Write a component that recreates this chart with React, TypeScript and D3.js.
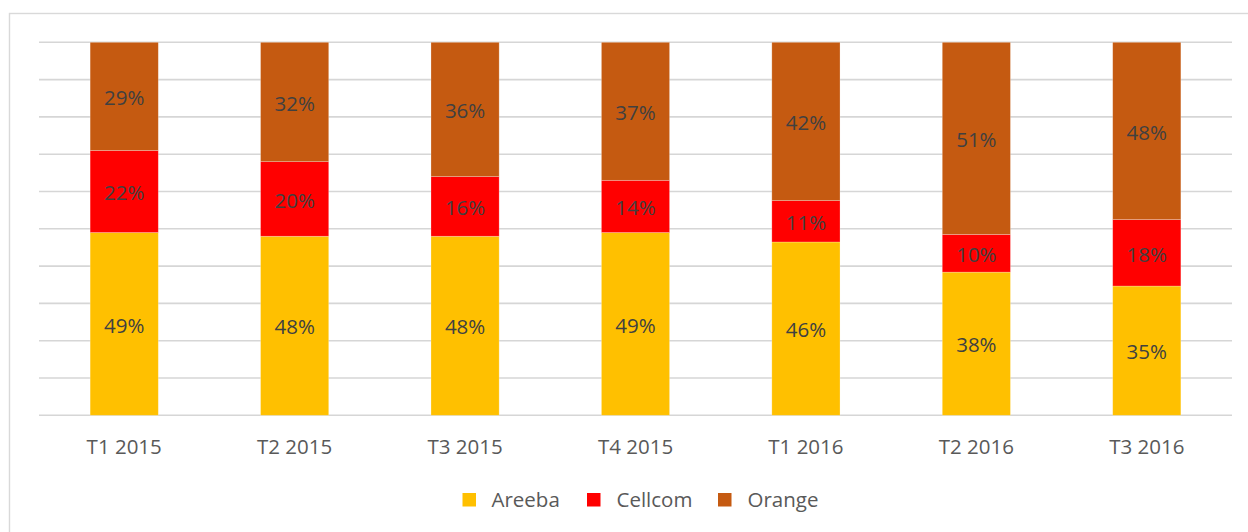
import React from "react";
import * as d3 from "d3";

const categories = ["T1 2015", "T2 2015", "T3 2015", "T4 2015", "T1 2016", "T2 2016", "T3 2016"];
const seriesNames = ["Areeba", "Cellcom", "Orange"];
const areeba = [49, 48, 48, 49, 46, 38, 35];
const cellcom = [22, 20, 16, 14, 11, 10, 18];
const orange = [29, 32, 36, 37, 42, 51, 48];
const colors = ["#FFC000", "#FF0000", "#C55A11"];
const gridTicks = [0, 0.1, 0.2, 0.3, 0.4, 0.5, 0.6, 0.7, 0.8, 0.9, 1];

const W = 1248;
const H = 532;
const FONT = "'Open Sans', sans-serif";

export default function App() {
  const rows = categories.map((c, i) => ({ cat: c, Areeba: areeba[i], Cellcom: cellcom[i], Orange: orange[i] }));
  const stack = d3.stack<any>().keys(seriesNames).offset(d3.stackOffsetExpand);
  const layers = stack(rows);

  const x = d3.scaleBand().domain(categories).range([39, 1232]).paddingInner(0.6).paddingOuter(0.3);
  const y = d3.scaleLinear().domain([0, 1]).range([415.3, 42.3]);

  const legendItems = [
    { name: "Areeba", sx: 462.5, tx: 491.5 },
    { name: "Cellcom", sx: 587, tx: 616.5 },
    { name: "Orange", sx: 718, tx: 747.5 },
  ];

  return (
    <svg width={W} height={H} style={{ position: "absolute", left: 0, top: 0, background: "#fff" }}>
      <rect x={9.5} y={13.5} width={W + 20} height={H + 20} fill="#fff" stroke="#d9d9d9" strokeWidth={1.4} />
      {gridTicks.map((t) => (
        <line key={t} x1={39} x2={1232} y1={y(t)} y2={y(t)} stroke="#d6d6d6" strokeWidth={1.6} />
      ))}
      {layers.map((layer, li) => (
        <g key={layer.key}>
          {layer.map((d, i) => (
            <rect
              key={i}
              x={x(categories[i])!}
              width={x.bandwidth()}
              y={y(d[1])}
              height={y(d[0]) - y(d[1])}
              fill={colors[li]}
              stroke="#fff"
              strokeOpacity={0.35}
              strokeWidth={0.7}
            />
          ))}
          {layer.map((d, i) => (
            <text
              key={"t" + i}
              x={x(categories[i])! + x.bandwidth() / 2}
              y={(y(d[0]) + y(d[1])) / 2 + 8.7}
              textAnchor="middle"
              fontFamily={FONT}
              fontSize={20.5}
              fill="#404040"
            >
              {(d.data as any)[layer.key] + "%"}
            </text>
          ))}
        </g>
      ))}
      {categories.map((c) => (
        <text
          key={c}
          x={x(c)! + x.bandwidth() / 2}
          y={454}
          textAnchor="middle"
          fontFamily={FONT}
          fontSize={20.5}
          fill="#595959"
        >
          {c}
        </text>
      ))}
      {legendItems.map((l, i) => (
        <g key={l.name}>
          <rect x={l.sx} y={493} width={13.5} height={13.5} fill={colors[i]} />
          <text x={l.tx} y={506.5} fontFamily={FONT} fontSize={20.5} fill="#595959">
            {l.name}
          </text>
        </g>
      ))}
    </svg>
  );
}
